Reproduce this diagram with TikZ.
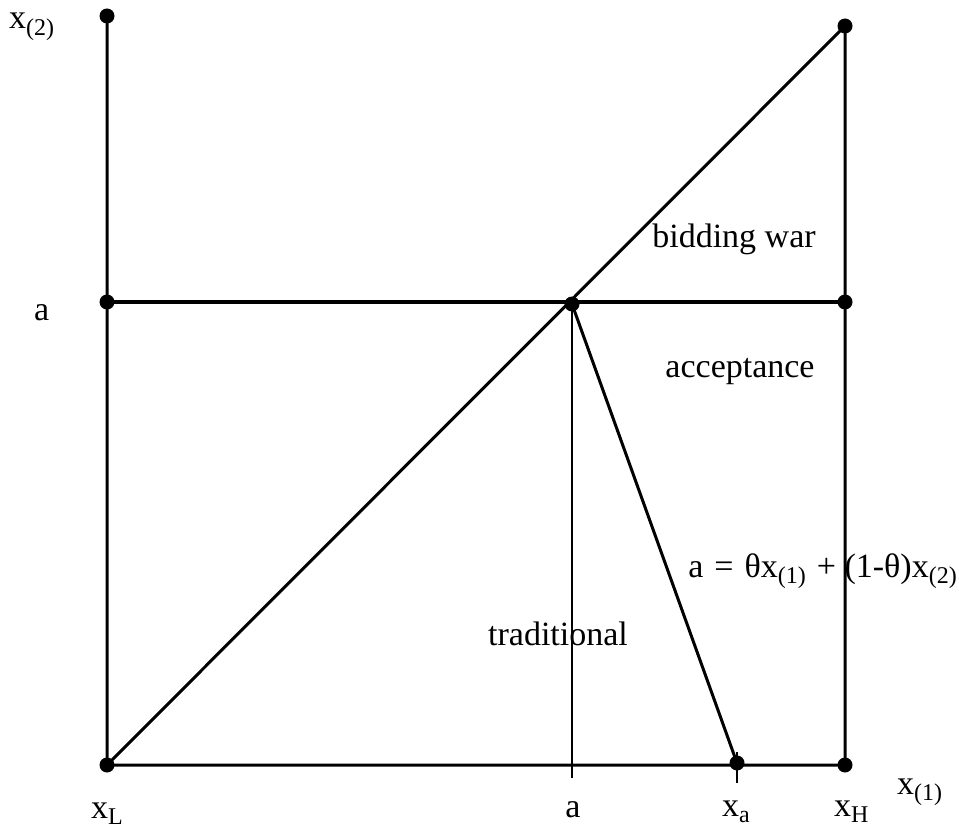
\documentclass[tikz,border=0pt]{standalone}
\usepackage{fontspec}
\setmainfont{Liberation Serif}
\newcommand\sbs[1]{\raisebox{-0.2em}{\fontsize{24}{24}\selectfont #1}}
\begin{document}
\begin{tikzpicture}[x=1pt,y=-1pt,
  mainline/.style={line width=3pt},
  thinline/.style={line width=2pt},
  dot/.style={circle,fill=black,inner sep=0pt,minimum size=15pt},
  lbl/.style={inner sep=0pt,font=\fontsize{34}{38}\selectfont}]
\useasboundingbox (0,0) rectangle (959,829);
% coordinates
\coordinate (tl) at (107,16);
\coordinate (la) at (107,302);
\coordinate (bl) at (107,765);
\coordinate (m) at (572,304);
\coordinate (ra) at (845,302);
\coordinate (tr) at (845,26);
\coordinate (br) at (845,765);
\coordinate (xa) at (737,763);
\coordinate (ta) at (572,778);
\coordinate (xat) at (737,752);
\coordinate (xab) at (737,783);
% lines
\draw[mainline] (tl) -- (bl) -- (br) -- (tr) -- (bl);
\draw[mainline] (la) -- (ra);
\draw[mainline] (m) -- (xa);
\draw[thinline] (m) -- (ta);
\draw[thinline] (xat) -- (xab);
% dots
\foreach \p in {tl,la,bl,m,ra,tr,br,xa} \node[dot] at (\p) {};
% labels
\node[lbl,anchor=base west] (lx2) at (9,29) {x\sbs{(2)}};
\node[lbl,anchor=base west] (la1) at (34,320) {a};
\node[lbl,anchor=base] (lbw) at (734,248) {bidding war};
\node[lbl,anchor=base] (lac) at (740,377) {acceptance};
\node[lbl,anchor=base east] (leq) at (957,577) {a\hspace{11pt}=\hspace{11pt}θx\sbs{(1)}\hspace{11pt}+ (1-θ)x\sbs{(2)}};
\node[lbl,anchor=base] (ltr) at (558,645) {traditional};
\node[lbl,anchor=base west] (lxl) at (91,818) {x\sbs{L}};
\node[lbl,anchor=base] (la2) at (573,817) {a};
\node[lbl,anchor=base west] (lxa) at (722,816) {x\sbs{a}};
\node[lbl,anchor=base west] (lxh) at (834,816) {x\sbs{H}};
\node[lbl,anchor=base west] (lx1) at (897,794) {x\sbs{(1)}};
\end{tikzpicture}
\end{document}
